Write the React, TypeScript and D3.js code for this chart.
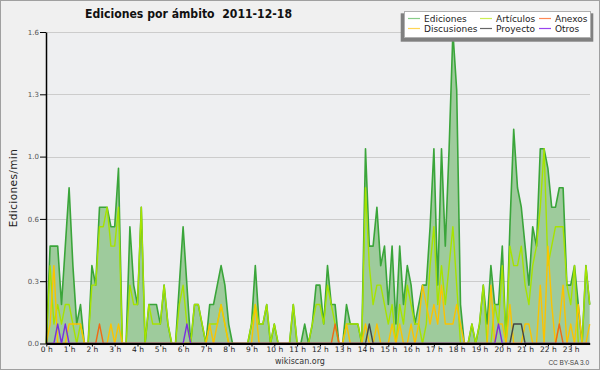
import { useEffect, useRef } from "react";
import * as d3 from "d3";

// edits per 10-minute bin (144 bins, 0 h .. 23:50), one row per hour
const ediciones = [
  0, 5, 5, 5, 2, 5,
  8, 4, 1, 2, 0, 0,
  4, 3, 7, 7, 7, 6,
  6, 9, 0, 0, 6, 3,
  2, 7, 0, 2, 2, 2,
  1, 3, 1, 0, 0, 3,
  6, 3, 0, 2, 2, 1,
  0, 2, 2, 3, 4, 3,
  1, 0, 0, 0, 0, 0,
  1, 4, 1, 1, 2, 0,
  1, 0, 0, 0, 0, 2,
  0, 0, 1, 0, 1, 3,
  3, 1, 4, 2, 2, 0,
  0, 2, 1, 1, 1, 0,
  10, 5, 5, 7, 4, 5,
  2, 5, 1, 5, 2, 4,
  3, 1, 2, 3, 3, 6,
  10, 3, 10, 5, 10, 16,
  13, 2, 0, 0, 1, 0,
  1, 3, 1, 4, 2, 2,
  5, 0, 6, 11, 8, 7,
  5, 3, 6, 5, 10, 10,
  9, 7, 7, 8, 8, 3,
  3, 4, 2, 0, 4, 2,
];

const articulos = [
  0, 4, 1, 2, 1, 2,
  2, 1, 0, 1, 0, 0,
  3, 3, 6, 6, 7, 5,
  5, 7, 0, 0, 3, 2,
  2, 7, 0, 2, 1, 1,
  1, 3, 1, 0, 0, 2,
  3, 1, 0, 2, 2, 1,
  0, 1, 1, 1, 2, 1,
  0, 0, 0, 0, 0, 0,
  1, 2, 1, 1, 2, 0,
  1, 0, 0, 0, 0, 2,
  0, 0, 0, 0, 1, 2,
  2, 1, 3, 2, 1, 0,
  0, 1, 1, 1, 1, 0,
  8, 4, 2, 3, 3, 2,
  1, 2, 0, 2, 1, 3,
  2, 1, 1, 0, 1, 4,
  6, 2, 4, 2, 4, 6,
  3, 0, 0, 0, 1, 0,
  1, 3, 0, 0, 2, 1,
  4, 0, 5, 4, 4, 5,
  3, 2, 4, 5, 7, 10,
  4, 5, 6, 6, 6, 3,
  2, 4, 0, 0, 4, 2,
];

const discusiones = [
  0, 1, 4, 0, 0, 0,
  1, 1, 1, 1, 0, 0,
  0, 0, 0, 0, 0, 1,
  0, 1, 0, 0, 0, 0,
  0, 0, 0, 0, 0, 0,
  0, 0, 0, 0, 0, 0,
  0, 0, 0, 0, 0, 0,
  0, 1, 0, 1, 2, 1,
  0, 0, 0, 0, 0, 0,
  0, 2, 0, 0, 0, 0,
  0, 0, 0, 0, 0, 0,
  0, 0, 0, 0, 0, 0,
  0, 0, 0, 0, 0, 0,
  0, 1, 0, 0, 0, 0,
  1, 0, 0, 1, 0, 0,
  0, 1, 0, 1, 0, 0,
  1, 0, 1, 3, 2, 1,
  2, 1, 3, 1, 1, 1,
  2, 1, 0, 0, 0, 0,
  0, 0, 0, 3, 0, 1,
  1, 0, 2, 0, 0, 0,
  1, 1, 0, 0, 3, 0,
  5, 2, 0, 1, 3, 0,
  1, 0, 2, 0, 0, 1,
];

const anexos = [
  0, 0, 0, 0, 0, 0,
  0, 0, 0, 0, 0, 0,
  0, 0, 1, 0, 0, 0,
  0, 0, 0, 0, 0, 0,
  0, 0, 0, 0, 0, 0,
  0, 0, 0, 0, 0, 0,
  0, 0, 0, 0, 0, 0,
  0, 0, 0, 0, 0, 0,
  0, 0, 0, 0, 0, 0,
  0, 0, 0, 0, 0, 0,
  0, 0, 0, 0, 0, 0,
  0, 0, 0, 0, 0, 0,
  0, 0, 0, 0, 1, 0,
  0, 0, 0, 0, 0, 0,
  0, 0, 0, 0, 0, 0,
  0, 0, 0, 0, 0, 0,
  0, 0, 0, 0, 0, 0,
  0, 0, 0, 0, 0, 0,
  0, 0, 0, 0, 0, 0,
  0, 0, 0, 0, 0, 0,
  0, 0, 0, 0, 0, 0,
  0, 0, 0, 0, 0, 0,
  0, 0, 0, 1, 0, 0,
  0, 0, 0, 0, 0, 0,
];

const proyecto = [
  0, 0, 0, 0, 0, 0,
  0, 0, 0, 0, 0, 0,
  0, 0, 0, 0, 0, 0,
  0, 0, 0, 0, 0, 0,
  0, 0, 0, 0, 0, 0,
  0, 0, 0, 0, 0, 0,
  0, 0, 0, 0, 0, 0,
  0, 0, 0, 0, 0, 0,
  0, 0, 0, 0, 0, 0,
  0, 0, 0, 0, 0, 0,
  0, 0, 0, 0, 0, 0,
  0, 0, 0, 0, 0, 0,
  0, 0, 0, 0, 0, 0,
  0, 0, 0, 0, 0, 0,
  0, 1, 0, 0, 0, 0,
  0, 0, 0, 0, 0, 0,
  0, 0, 0, 0, 0, 0,
  0, 0, 0, 0, 0, 0,
  0, 0, 0, 0, 0, 0,
  0, 0, 0, 0, 0, 0,
  0, 0, 0, 1, 1, 1,
  0, 0, 0, 0, 0, 0,
  0, 0, 0, 0, 0, 0,
  0, 0, 0, 0, 0, 0,
];

const otros = [
  0, 0, 0, 1, 0, 1,
  0, 0, 0, 0, 0, 0,
  0, 0, 0, 0, 0, 0,
  0, 0, 0, 0, 0, 0,
  0, 0, 0, 0, 0, 0,
  0, 0, 0, 0, 0, 0,
  0, 1, 0, 0, 0, 0,
  0, 0, 0, 0, 0, 0,
  0, 0, 0, 0, 0, 0,
  0, 0, 0, 0, 0, 0,
  0, 0, 0, 0, 0, 0,
  0, 0, 0, 0, 0, 0,
  0, 0, 0, 0, 0, 0,
  0, 0, 0, 0, 0, 0,
  0, 0, 0, 0, 0, 0,
  0, 0, 0, 0, 0, 0,
  0, 0, 0, 0, 0, 0,
  0, 0, 0, 0, 0, 0,
  0, 0, 0, 0, 0, 0,
  0, 0, 0, 0, 0, 1,
  0, 0, 0, 0, 0, 0,
  0, 0, 0, 0, 0, 0,
  0, 0, 0, 0, 0, 0,
  0, 0, 0, 0, 0, 0,
];

const hours = d3.range(0, 24);
const yMajor = [0, 0.32, 0.64, 0.96, 1.28, 1.6];

const legendItems = [
  { name: "Ediciones", color: "#88cc88", col: 0, row: 0 },
  { name: "Artículos", color: "#ccee55", col: 1, row: 0 },
  { name: "Anexos", color: "#ff8855", col: 2, row: 0 },
  { name: "Discusiones", color: "#ffd555", col: 0, row: 1 },
  { name: "Proyecto", color: "#666666", col: 1, row: 1 },
  { name: "Otros", color: "#9944ee", col: 2, row: 1 },
];

const FONT = "DejaVu Sans, sans-serif";

export default function App() {
  const svgRef = useRef<SVGSVGElement>(null);

  useEffect(() => {
    const svg = d3.select(svgRef.current);
    svg.selectAll("*").remove();

    const x = d3.scaleLinear().domain([0, 143]).range([46.3, 589.7]);
    const y = d3.scaleLinear().domain([0, 1.6]).range([343.5, 32]);
    const perMin = (c: number) => c / 10;

    // background + frame
    svg.append("rect").attr("x", 0.5).attr("y", 0.5).attr("width", 599).attr("height", 369)
      .attr("fill", "#f0f0f0").attr("stroke", "#a0a0a0");
    svg.append("rect").attr("x", 46).attr("y", 32).attr("width", 544).attr("height", 311.5)
      .attr("fill", "#eeeff1");

    // grid
    svg.append("g").selectAll("line").data(yMajor.slice(1)).join("line")
      .attr("x1", 46).attr("x2", 590)
      .attr("y1", (d) => Math.round(y(d)) + 0.5).attr("y2", (d) => Math.round(y(d)) + 0.5)
      .attr("stroke", "#cccccc");

    const area = d3.area<number>().x((_, i) => x(i)).y0(y(0)).y1((d) => y(perMin(d)));
    const line = d3.line<number>().x((_, i) => x(i)).y((d) => y(perMin(d)));

    svg.append("path").attr("d", area(ediciones)).attr("fill", "#9ecb9c");
    svg.append("path").attr("d", line(ediciones)).attr("fill", "none")
      .attr("stroke", "#3aa53a").attr("stroke-width", 1.6).attr("stroke-linejoin", "round");

    const series = [
      { data: articulos, color: "#a6e300" },
      { data: discusiones, color: "#fbc300" },
      { data: anexos, color: "#f06a14" },
      { data: proyecto, color: "#444444" },
      { data: otros, color: "#7a2fe0" },
    ];
    series.forEach((s) => {
      svg.append("path").attr("d", line(s.data)).attr("fill", "none")
        .attr("stroke", s.color).attr("stroke-width", 1.4).attr("stroke-linejoin", "round");
    });

    // y axis
    const yMinor = d3.range(0, 21).map((k) => k * 0.08).filter((v) => !yMajor.some((m) => Math.abs(m - v) < 1e-6));
    const gy = svg.append("g").attr("transform", "translate(46,0)");
    gy.call(d3.axisLeft(y).tickValues(yMinor).tickSize(3).tickSizeOuter(0).tickFormat(() => ""));
    gy.call(d3.axisLeft(y).tickValues(yMajor).tickSize(6).tickSizeOuter(0).tickPadding(1)
      .tickFormat((d) => d3.format(".1f")(d as number)));
    gy.attr("font-family", FONT).attr("font-size", 7);
    gy.selectAll(".domain").attr("stroke", "#000").attr("stroke-width", 1.5);
    gy.selectAll(".tick line").attr("stroke", "#000");
    gy.selectAll(".tick text").attr("fill", "#555");

    // x axis
    const gx = svg.append("g").attr("transform", "translate(0,343.5)");
    gx.call(d3.axisBottom(x).tickValues(d3.range(144)).tickSize(3).tickSizeOuter(0).tickFormat(() => ""));
    gx.call(d3.axisBottom(x).tickValues(hours.map((h) => h * 6)).tickSize(3).tickSizeOuter(0).tickPadding(0.5)
      .tickFormat((d) => `${(d as number) / 6} h`));
    gx.attr("font-family", FONT).attr("font-size", 7.5);
    gx.selectAll(".domain").attr("stroke", "#000").attr("stroke-width", 2);
    gx.selectAll(".tick line").attr("stroke", "#000");
    gx.selectAll(".tick text").attr("fill", "#222");

    // titles
    svg.append("text").attr("x", 85).attr("y", 18.3)
      .attr("font-family", FONT).attr("font-weight", "bold").attr("font-size", 13)
      .attr("textLength", 207).attr("lengthAdjust", "spacingAndGlyphs")
      .style("white-space", "pre").attr("fill", "#111")
      .text("Ediciones por ámbito  2011-12-18");

    svg.append("text").attr("transform", "translate(17,188) rotate(-90)")
      .attr("text-anchor", "middle").attr("font-family", FONT).attr("font-size", 10.5)
      .attr("letter-spacing", 0.4).attr("fill", "#222").text("Ediciones/min");

    svg.append("text").attr("x", 300).attr("y", 364).attr("text-anchor", "middle")
      .attr("font-family", FONT).attr("font-size", 8).attr("fill", "#333").text("wikiscan.org");

    svg.append("text").attr("x", 589).attr("y", 365).attr("text-anchor", "end")
      .attr("font-family", "Liberation Sans, sans-serif").attr("font-size", 6.5).attr("fill", "#444")
      .text("CC BY-SA 3.0");

    // legend
    const lg = svg.append("g");
    lg.append("rect").attr("x", 400.7).attr("y", 13.3).attr("width", 192.6).attr("height", 28.4).attr("fill", "#808080");
    lg.append("rect").attr("x", 404.5).attr("y", 11.5).attr("width", 186).attr("height", 26)
      .attr("fill", "#ffffff").attr("stroke", "#b0b0b0");
    const colX = [408, 480, 539];
    const item = lg.selectAll("g.item").data(legendItems).join("g").attr("class", "item")
      .attr("transform", (d) => `translate(${colX[d.col]},${18.5 + d.row * 10})`);
    item.append("line").attr("x1", 0).attr("x2", 12).attr("y1", 0).attr("y2", 0)
      .attr("stroke", (d) => d.color).attr("stroke-width", 1.2);
    item.append("text").attr("x", 16).attr("y", 3.2).attr("font-family", FONT).attr("font-size", 9)
      .attr("fill", "#222").text((d) => d.name);
  }, []);

  return (
    <svg ref={svgRef} width={600} height={370}
      style={{ position: "absolute", left: 0, top: 0, display: "block" }} />
  );
}
